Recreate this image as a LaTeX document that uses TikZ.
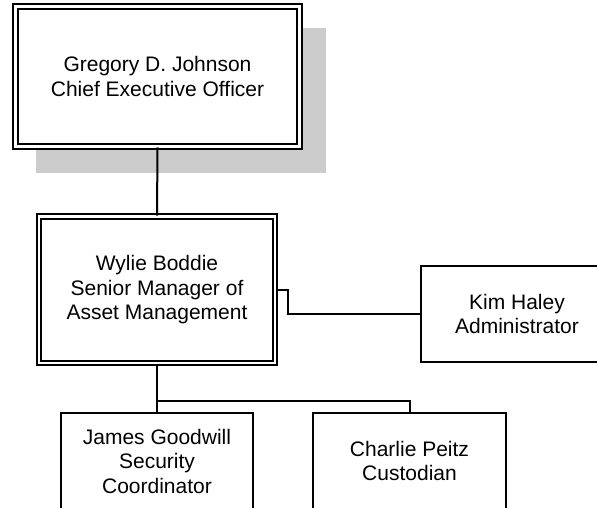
\documentclass[tikz,border=0pt]{standalone}
\usepackage{fontspec}
\setmainfont{Liberation Sans}
\begin{document}
\begin{tikzpicture}[x=1pt,y=-1pt,
  box/.style={draw=black, line width=2pt, fill=white, inner sep=0pt, align=center,
    font=\fontsize{21}{24.5}\selectfont},
  dbox/.style={box, line width=1.9pt, double=white, double distance=2.4pt},
  conn/.style={draw=black, line width=2pt}]
\useasboundingbox (0,0) rectangle (597,507);
\clip (0,0) rectangle (597,507);
\fill[black!20] (36,28) rectangle (326,173);
\node[dbox, minimum width=284pt, minimum height=140pt] (ceo) at (157.5,76.5)
  {Gregory D. Johnson\\Chief Executive Officer};
\node[dbox, minimum width=236pt, minimum height=146.5pt] (wylie) at (157,289.75)
  {Wylie Boddie\\Senior Manager of\\Asset Management};
\node[box, minimum width=192pt, minimum height=96pt] (kim) at (517,314)
  {Kim Haley\\Administrator};
\node[box, minimum width=192pt, minimum height=96pt] (james) at (157,461)
  {James Goodwill\\Security\\Coordinator};
\node[box, minimum width=193pt, minimum height=96pt] (charlie) at (409.5,461)
  {Charlie Peitz\\Custodian};
\coordinate (split) at (157,401);
\draw[conn] (ceo.south) -- (wylie.north);
\draw[conn] (wylie.east) -- ++(12,0) |- (kim.west);
\draw[conn] (wylie.south) -- (james.north);
\draw[conn] (split) -| (charlie.north);
\end{tikzpicture}
\end{document}
